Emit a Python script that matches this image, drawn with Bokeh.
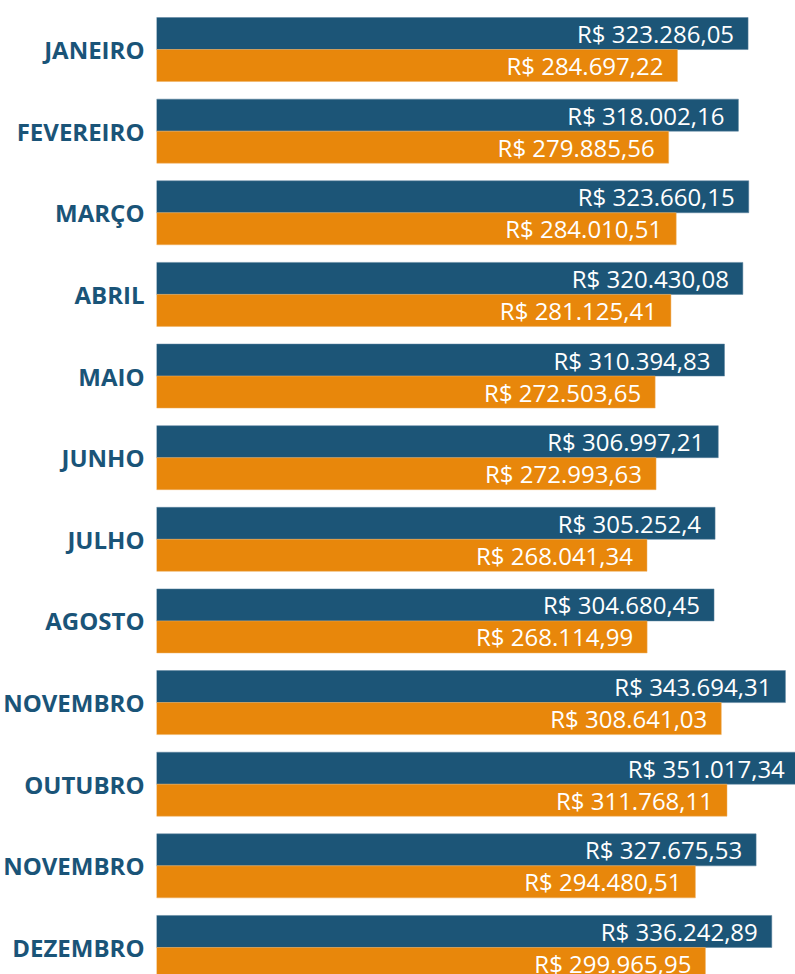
from bokeh.plotting import figure
from bokeh.models import Range1d, FixedTicker, ColumnDataSource
from bokeh.core.properties import value
from bokeh.embed import file_html
from bokeh.resources import INLINE

months = ["JANEIRO", "FEVEREIRO", "MARÇO", "ABRIL", "MAIO", "JUNHO", "JULHO",
          "AGOSTO", "NOVEMBRO", "OUTUBRO", "NOVEMBRO", "DEZEMBRO"]
series_blue = [323286.05, 318002.16, 323660.15, 320430.08, 310394.83, 306997.21,
               305252.4, 304680.45, 343694.31, 351017.34, 327675.53, 336242.89]
series_orange = [284697.22, 279885.56, 284010.51, 281125.41, 272503.65, 272993.63,
                 268041.34, 268114.99, 308641.03, 311768.11, 294480.51, 299965.95]

BLUE = "#1c5577"
ORANGE = "#e8870b"


def fmt(v):
    s = f"{v:,.2f}".replace(",", "X").replace(".", ",").replace("X", ".")
    if s.endswith("0"):
        s = s[:-1]
    return "R$ " + s


idx = list(range(len(months)))
off = 0.196
h = 0.392

src_b = ColumnDataSource(dict(y=[i - off for i in idx], v=series_blue,
                              t=[fmt(v) for v in series_blue]))
src_o = ColumnDataSource(dict(y=[i + off for i in idx], v=series_orange,
                              t=[fmt(v) for v in series_orange]))

p = figure(width=795, height=974, output_backend="svg", toolbar_location=None,
           x_range=Range1d(0, 349200), y_range=Range1d(11.331, -0.6005),
           min_border_left=156, min_border_right=0, min_border_top=0,
           min_border_bottom=0)
p.outline_line_color = None
p.grid.visible = False
p.xaxis.visible = False
p.background_fill_color = "white"
p.border_fill_color = "white"

p.hbar(y="y", left=0, right="v", height=h, source=src_b, fill_color=BLUE,
       line_color="#5c84a0", line_width=1, line_alpha=0.5)
p.hbar(y="y", left=0, right="v", height=h, source=src_o, fill_color=ORANGE,
       line_color="#f0b060", line_width=1, line_alpha=0.5)

for src in (src_b, src_o):
    p.text(x="v", y="y", text="t", source=src, x_offset=-14,
           text_align="right", text_baseline="middle", text_color="white",
           text_font=value("Open Sans"), text_font_size="24px")

ya = p.yaxis[0]
ya.ticker = FixedTicker(ticks=idx)
ya.major_label_overrides = {i: m for i, m in zip(idx, months)}
ya.major_label_text_font = "Open Sans"
ya.major_label_text_font_style = "bold"
ya.major_label_text_font_size = "24px"
ya.major_label_text_color = "#1a5478"
ya.major_tick_out = 0
ya.major_tick_in = 0
ya.minor_tick_out = 0
ya.minor_tick_in = 0
ya.axis_line_color = None
ya.major_label_standoff = 12

open("out.html", "w").write(file_html(p, INLINE))
